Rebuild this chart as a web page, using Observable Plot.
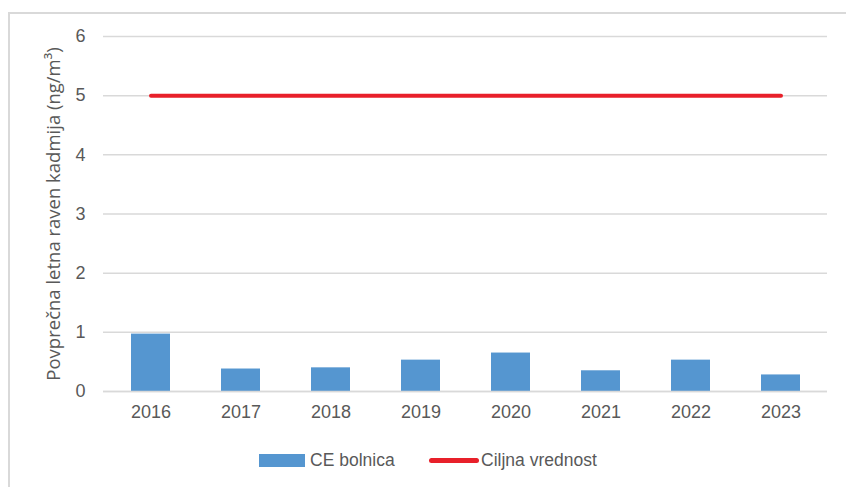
<!DOCTYPE html>
<html>
<head>
<meta charset="utf-8">
<script src="https://cdn.jsdelivr.net/npm/d3@7"></script>
<script src="https://cdn.jsdelivr.net/npm/@observablehq/plot@0.6"></script>
<style>
  html, body { margin: 0; padding: 0; background: #fff; }
  #wrap { position: relative; width: 846px; height: 487px; overflow: hidden; font-family: "Liberation Sans", Arial, sans-serif; }
  #frame { position: absolute; left: 8px; top: 12px; width: 900px; height: 600px; border: 2px solid #d9d9d9; box-sizing: border-box; }
  #chart { position: absolute; left: 0; top: 0; }
  #legend { position: absolute; left: 0; top: 440px; width: 846px; height: 47px; color: #595959; font-size: 17.5px; }
  .sw { position: absolute; }
  .lt { position: absolute; top: 10px; line-height: 20px; }
</style>
</head>
<body>
<div id="wrap">
  <div id="frame"></div>
  <div id="chart"></div>
  <div id="legend">
    <div class="sw" style="left:259px; top:14px; width:46px; height:13px; background:#5596d0;"></div>
    <div class="lt" style="left:310px;">CE bolnica</div>
    <div class="sw" style="left:429px; top:18px; width:50px; height:5px; border-radius:3px; background:#e8202a;"></div>
    <div class="lt" style="left:481px;">Ciljna vrednost</div>
  </div>
</div>
<script>
const years = ["2016", "2017", "2018", "2019", "2020", "2021", "2022", "2023"];
const ceBolnica = [0.97, 0.38, 0.40, 0.53, 0.65, 0.35, 0.53, 0.28];
const ciljnaVrednost = [5, 5, 5, 5, 5, 5, 5, 5];
const yTicks = [0, 1, 2, 3, 4, 5, 6];
const yLabel = "Povprečna letna raven kadmija (ng/m³)";

const bars = years.map((y, i) => ({year: y, value: ceBolnica[i]}));
const target = years.map((y, i) => ({year: y, value: ciljnaVrednost[i]}));

const chart = Plot.plot({
  width: 846,
  height: 440,
  marginLeft: 103,
  marginRight: 19,
  marginTop: 36,
  marginBottom: 49,
  style: {fontFamily: "'Liberation Sans', Arial, sans-serif", fontSize: "18px", color: "#595959", background: "transparent"},
  x: {domain: years, paddingInner: 0.57, paddingOuter: 0.285, label: null},
  y: {domain: [0, 6], label: null},
  marks: [
    Plot.gridY(yTicks, {stroke: "#d9d9d9", strokeOpacity: 1, strokeWidth: 1.5}),
    Plot.axisY(yTicks, {tickSize: 0, tickPadding: 18, label: null, fill: "#595959", tickFormat: d => String(d)}),
    Plot.axisX({tickSize: 0, tickPadding: 14, label: null, fill: "#595959"}),
    Plot.barY(bars, {x: "year", y: "value", fill: "#5596d0"}),
    Plot.ruleY([0], {stroke: "#d9d9d9", strokeWidth: 1.5}),
    Plot.lineY(target, {x: "year", y: "value", stroke: "#e8202a", strokeWidth: 4, strokeLinecap: "round"}),
    Plot.text([yLabel], {frameAnchor: "left", dx: -49, rotate: -90, textAnchor: "middle", fill: "#595959", fontSize: 18.5, fontFamily: "'Open Sans', sans-serif"})
  ]
});
document.getElementById("chart").appendChild(chart);
</script>
</body>
</html>
